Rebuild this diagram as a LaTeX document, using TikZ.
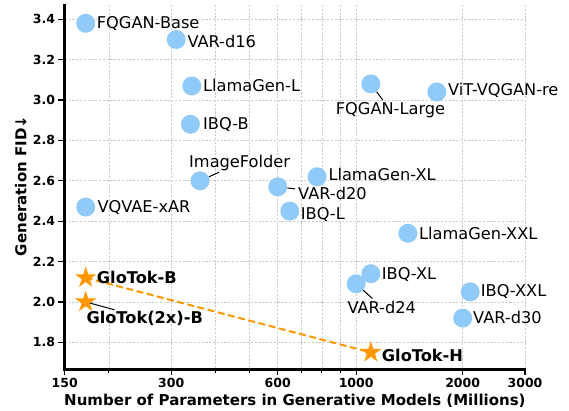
\documentclass[tikz,border=0pt]{standalone}
\usepackage{fontspec}
\setmainfont{DejaVu Sans}
\usetikzlibrary{shapes.geometric}
\definecolor{ptblue}{HTML}{90CAF9}
\definecolor{gloorange}{HTML}{FF9800}
\definecolor{gridgray}{HTML}{CCCCCC}
\pgfdeclarelayer{under}
\pgfsetlayers{under,main}

\tikzset{
  gridline/.style={draw=gridgray, line width=0.8pt, dash pattern=on 2.2pt off 1.6pt},
  spine/.style={draw=black, line width=2.5pt, line join=miter, line cap=rect},
  tickmark/.style={draw=black, line width=1.2pt},
  ticklabel/.style={inner sep=0pt, font=\bfseries\fontsize{12.5}{14}\selectfont},
  axislabel/.style={inner sep=0pt, font=\bfseries\fontsize{15}{18}\selectfont},
  model/.style={circle, fill=ptblue, draw=none, minimum size=19pt, inner sep=0pt},
  ours/.style={star, star points=5, star point ratio=2.618, fill=gloorange, draw=none,
               minimum size=22.5pt, inner sep=0pt},
  tag/.style={anchor=base west, inner sep=0pt, font=\fontsize{16.2}{19}\selectfont},
  oursTag/.style={tag, font=\bfseries\fontsize{16.2}{19}\selectfont},
  leader/.style={draw=black, line width=1pt, shorten >=3pt},
  trend/.style={draw=gloorange, line width=2pt, dash pattern=on 7pt off 3.5pt}
}

\begin{document}
\begin{tikzpicture}[x=1pt, y=-1pt,
  declare function={px(\v)=64.7+353.8*log10(\v/150); py(\v)=19.3+(3.4-\v)*201.9;}]
\useasboundingbox (0,0) rectangle (569,411);

% grid (log x axis: major and minor lines)
\begin{pgfonlayer}{under}
\foreach \v in {200,300,400,500,600,700,800,900,1000,2000,3000}
  \draw[gridline] ({px(\v)},5) -- ({px(\v)},369.3);
\foreach \v in {1.8,2.0,2.2,2.4,2.6,2.8,3.0,3.2,3.4}
  \draw[gridline] (64.7,{py(\v)}) -- (525,{py(\v)});
\end{pgfonlayer}

% axes
\draw[spine] (64.7,5) -- (64.7,369.3) -- (525,369.3);
\foreach \v in {1.8,2.0,2.2,2.4,2.6,2.8,3.0,3.2,3.4}{
  \draw[tickmark] (58.3,{py(\v)}) -- (64,{py(\v)});
  \node[ticklabel, anchor=east] at (55.2,{py(\v)}) {\v};
}
\foreach \v in {150,300,600,1000,2000,3000}{
  \draw[tickmark] ({px(\v)},370) -- ({px(\v)},375);
  \node[ticklabel] at ({px(\v)},383.3) {\v};
}
\foreach \v in {200,400,500,700,800,900}
  \draw[tickmark, line width=0.9pt] ({px(\v)},370) -- ({px(\v)},372.8);

\node[axislabel, anchor=base] (xlab) at (294.9,405.3) {Number of Parameters in Generative Models (Millions)};
\node[axislabel, anchor=base, rotate=90] (ylab) at (26.3,186) {Generation FID↓};

% baseline models
\node[model] (fqb)  at ({px(172)},{py(3.38)}) {};
\node[model] (v16)  at ({px(310)},{py(3.30)}) {};
\node[model] (llL)  at ({px(343)},{py(3.07)}) {};
\node[model] (ibB)  at ({px(340)},{py(2.88)}) {};
\node[model] (imf)  at ({px(362)},{py(2.60)}) {};
\node[model] (fql)  at ({px(1100)},{py(3.08)}) {};
\node[model] (vit)  at ({px(1690)},{py(3.04)}) {};
\node[model] (lxl)  at ({px(775)},{py(2.62)}) {};
\node[model] (v20)  at ({px(600)},{py(2.57)}) {};
\node[model] (ibL)  at ({px(649)},{py(2.45)}) {};
\node[model] (vqx)  at ({px(172)},{py(2.47)}) {};
\node[model] (lxx)  at ({px(1400)},{py(2.34)}) {};
\node[model] (v24)  at ({px(1000)},{py(2.09)}) {};
\node[model] (ibx)  at ({px(1100)},{py(2.14)}) {};
\node[model] (ibxx) at ({px(2100)},{py(2.05)}) {};
\node[model] (v30)  at ({px(2000)},{py(1.92)}) {};

% GloTok models
\node[ours] (gb)  at ({px(172)},{py(2.12)}) {};
\node[ours] (g2b) at ({px(172)},{py(2.00)}) {};
\node[ours] (gh)  at ({px(1100)},{py(1.75)}) {};
\begin{pgfonlayer}{under}
\draw[trend] (gb.center) -- (gh.center);
\end{pgfonlayer}

% labels
\node[tag] (tfqb)  at (96.7,28.5)   {FQGAN-Base};
\node[tag] (tv16)  at (187.3,47.8)  {VAR-d16};
\node[tag] (tllL)  at (203,91.8)    {LlamaGen-L};
\node[tag] (tibB)  at (203,129.8)   {IBQ-B};
\node[tag] (timf)  at (189,167.5)   {ImageFolder};
\node[tag] (tfql)  at (335.7,114.8) {FQGAN-Large};
\node[tag] (tvit)  at (448,95.8)    {ViT-VQGAN-re};
\node[tag] (tlxl)  at (328.3,180.8) {LlamaGen-XL};
\node[tag] (tv20)  at (298,199.1)   {VAR-d20};
\node[tag] (tibL)  at (300.7,219.8) {IBQ-L};
\node[tag] (tvqx)  at (97.3,212.5)  {VQVAE-xAR};
\node[tag] (tlxx)  at (419,239.1)   {LlamaGen-XXL};
\node[tag] (tibx)  at (381.7,279.1) {IBQ-XL};
\node[tag] (tv24)  at (347.3,313.1) {VAR-d24};
\node[tag] (tibxx) at (480.7,296.5) {IBQ-XXL};
\node[tag] (tv30)  at (473,323.1)   {VAR-d30};
\node[oursTag] (tgb)  at (96.7,283.1) {GloTok-B};
\node[oursTag] (tg2b) at (86.3,323.1) {GloTok(2x)-B};
\node[oursTag] (tgh)  at (381.7,361.5) {GloTok-H};

% leader lines
\draw[leader] (imf) -- (timf);
\draw[leader] (fql) -- (tfql);
\draw[leader] (v20) -- (tv20);
\draw[leader] (v24) -- (tv24);
\draw[leader] (g2b) -- (tg2b);
\end{tikzpicture}
\end{document}
